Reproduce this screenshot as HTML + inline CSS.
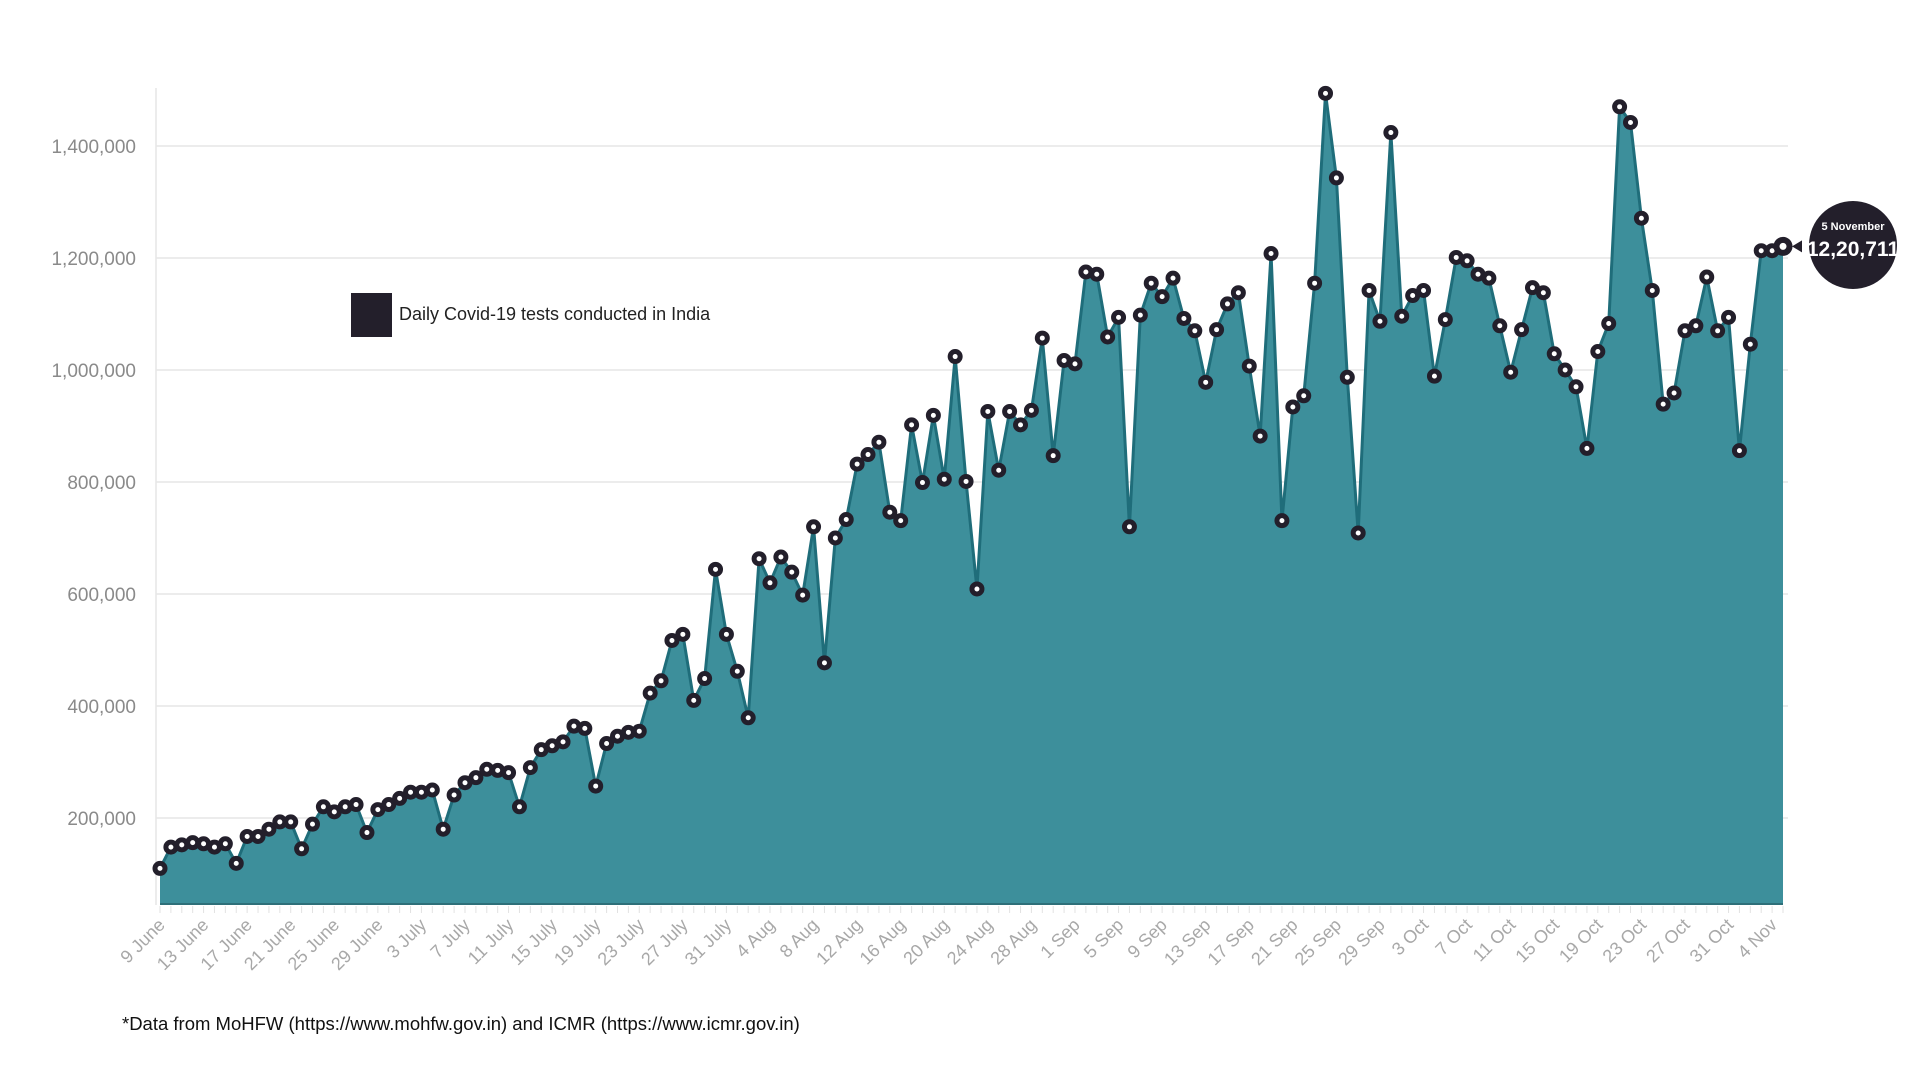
<!DOCTYPE html>
<html><head><meta charset="utf-8">
<style>
html,body{margin:0;padding:0;background:#fff;width:1920px;height:1080px;overflow:hidden;font-family:"Liberation Sans",sans-serif}
svg{display:block}
</style></head>
<body>
<svg id="chart" width="1920" height="1080" xmlns="http://www.w3.org/2000/svg"></svg>
<script>
const startDate = new Date(2020, 5, 9);
const values = [110,148,152,156,154,148,154,119,167,167,180,193,193,145,189,220,211,220,224,174,
215,224,235,246,246,250,180,241,263,272,287,285,281,220,290,322,329,336,364,360,
257,333,346,353,355,423,445,517,528,410,449,644,528,462,379,663,620,666,639,598,
720,477,700,733,832,849,871,746,731,902,799,919,805,1024,801,609,926,821,926,902,
928,1057,847,1017,1011,1175,1171,1059,1094,720,1098,1155,1131,1164,1092,1070,978,1072,1118,1138,
1007,882,1208,731,934,954,1155,1494,1343,987,709,1142,1087,1424,1096,1133,1142,989,1090,1201,
1195,1171,1164,1079,996,1072,1147,1138,1029,1000,970,860,1033,1083,1470,1442,1271,1142,939,959,
1070,1079,1166,1070,1094,856,1046,1213,1213,1220.711].map(v=>v*1000);
const yTicks = [200000,400000,600000,800000,1000000,1200000,1400000];
const yTickLabels = ["200,000","400,000","600,000","800,000","1,000,000","1,200,000","1,400,000"];
const months = ["Jan","Feb","Mar","Apr","May","June","July","Aug","Sep","Oct","Nov","Dec"];

const NS="http://www.w3.org/2000/svg";
const svg=document.getElementById('chart');
const X0=160, X1=1783, YBASE=904;
const x=i=>X0+i*(X1-X0)/(values.length-1);
const y=v=>930-v/200000*112;
function el(tag,attrs,parent){const e=document.createElementNS(NS,tag);for(const k in attrs)e.setAttribute(k,attrs[k]);(parent||svg).appendChild(e);return e;}

yTicks.forEach((t,k)=>{
  const g=el('line',{x1:156,x2:1788,y1:y(t),y2:y(t),stroke:'#e6e6e6','stroke-width':1.5});
  
  
  const tx=el('text',{x:136,y:y(t)+7,'text-anchor':'end','font-size':19,fill:'#8a8a8a'});
  tx.textContent=yTickLabels[k];
  
  
});
const ax=el('line',{x1:156,x2:156,y1:88,y2:905,stroke:'#e6e6e6','stroke-width':1.5});



let d='M'+x(0)+','+YBASE;
values.forEach((v,i)=>{d+=' L'+x(i)+','+y(v);});
d+=' L'+x(values.length-1)+','+YBASE+' Z';
const area=el('path',{d:d,fill:'#3d8f9b'});


let ld='';
values.forEach((v,i)=>{ld+=(i?' L':'M')+x(i)+','+y(v);});
const line=el('path',{d:ld,fill:'none',stroke:'#1f6d7a','stroke-width':3});


const bl=el('line',{x1:x(0),x2:x(values.length-1),y1:YBASE,y2:YBASE,stroke:'#2e6f79','stroke-width':2});



values.forEach((v,i)=>{
  const t=el('line',{x1:x(i),x2:x(i),y1:YBASE+2,y2:YBASE+9,stroke:'#e2e2e2','stroke-width':1});
  
  
  if(i%4===0){
    const dt=new Date(startDate.getTime()+i*86400000);
    const tx=el('text',{x:x(i)+6,y:YBASE+22,'text-anchor':'end','font-size':18,fill:'#a8a8a8',transform:`rotate(-45 ${x(i)+6} ${YBASE+22})`});
    tx.textContent=dt.getDate()+' '+months[dt.getMonth()];
    
    
  }
});

values.forEach((v,i)=>{
  const c=el('circle',{cx:x(i),cy:y(v),r:5,fill:'#fff',stroke:'#231f2b','stroke-width':5});
  
  
});
const lastX=x(values.length-1), lastY=y(values[values.length-1]);
const lm=el('circle',{cx:lastX,cy:lastY,r:6.5,fill:'#fff',stroke:'#231f2b','stroke-width':6});



const tg=el('g',{});


el('path',{d:`M${lastX+9},${lastY} L${lastX+19},${lastY-6} L${lastX+19},${lastY+6} Z`,fill:'#231f2b'},tg);
el('circle',{cx:1853,cy:245,r:44,fill:'#231f2b'},tg);
const t1=el('text',{x:1853,y:230,'text-anchor':'middle','font-size':11,'font-weight':'bold',fill:'#fff'},tg);
t1.textContent='5 November';
const t2=el('text',{x:1853,y:256,'text-anchor':'middle','font-size':21,'font-weight':'bold',fill:'#fff'},tg);
t2.textContent='12,20,711';

const lg=el('g',{});


el('rect',{x:351,y:293,width:41,height:44,fill:'#231f2b'},lg);
const lt=el('text',{x:399,y:320,'font-size':18,fill:'#222'},lg);
lt.textContent='Daily Covid-19 tests conducted in India';

const fn=el('text',{x:122,y:1030,'font-size':18.5,fill:'#111'});
fn.textContent='*Data from MoHFW (https://www.mohfw.gov.in) and ICMR (https://www.icmr.gov.in)';


</script>
</body></html>
